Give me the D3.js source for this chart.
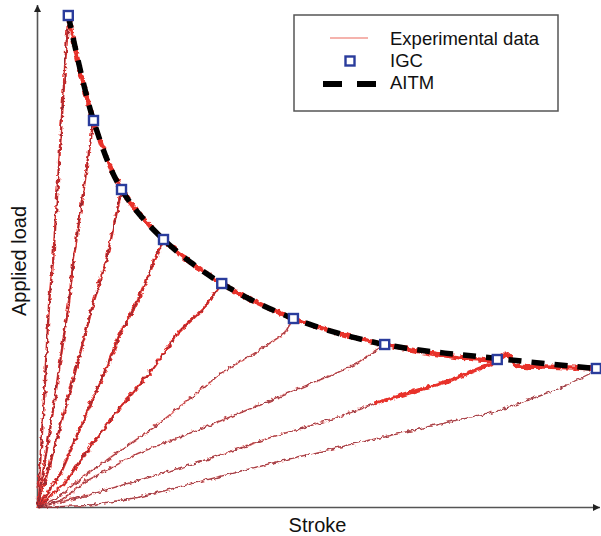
<!DOCTYPE html>
<html>
<head>
<meta charset="utf-8">
<script src="https://cdn.jsdelivr.net/npm/d3@7"></script>
<style>
  html, body { margin: 0; padding: 0; background: #fff; }
  svg { display: block; font-family: "Liberation Sans", Arial, sans-serif; }
</style>
</head>
<body>
<svg id="chart" width="601" height="536"></svg>
<script>
// ---- Data (arbitrary units: stroke 0-100, load 0-100) ----
const igcStroke = [5.5, 10.0, 15.0, 22.5, 32.9, 45.7, 62.0, 82.1, 99.8];
const igcLoad   = [98.4, 77.4, 63.6, 53.6, 44.8, 37.8, 32.6, 29.6, 27.8];

const aitmStroke = [5.5, 10.0, 15.0, 22.5, 32.9, 45.7, 62.0, 82.1, 99.8];
const aitmLoad   = [98.4, 77.4, 63.6, 53.6, 44.8, 37.8, 32.6, 29.8, 27.8];

// experimental envelope after peak (softening branch)
const envStroke = [5.5, 10.0, 15.0, 22.5, 32.9, 45.7, 62.0, 82.1, 83.9, 85.5, 90.5, 99.8];
const envLoad   = [98.4, 77.4, 63.6, 53.6, 44.8, 37.8, 32.6, 29.6, 30.6, 28.4, 28.2, 27.8];

// experimental loading branches (one per specimen)
const run1Stroke = [0, 1.2, 2.1, 2.8, 4.1, 5.5];
const run1Load   = [0, 22.4, 41.4, 49.4, 73.4, 98.4];
const run2Stroke = [0, 2.5, 5.66, 6.43, 8.21, 10.0];
const run2Load   = [0, 17.4, 41.4, 49.4, 63.4, 77.4];
const run3Stroke = [0, 3.39, 6.79, 10.1, 12.3, 15.0];
const run3Load   = [0, 13.4, 27.4, 41.4, 49.4, 63.6];
const run4Stroke = [0, 4.11, 7.68, 11.9, 14.8, 17.9, 20.9, 22.5];
const run4Load   = [0, 6.8, 16.0, 26.8, 34.8, 41.4, 49.4, 53.6];
const run5Stroke = [0, 4.77, 8.93, 14.8, 20.8, 25.0, 29.8, 32.9];
const run5Load   = [0, 4.8, 11.4, 20.0, 28.0, 34.8, 40.0, 44.8];
const run6Stroke = [0, 3.57, 8.93, 14.8, 20.8, 26.8, 32.7, 38.7, 44.1, 45.7];
const run6Load   = [0, 2.0, 6.8, 11.4, 16.0, 21.4, 26.8, 30.8, 34.8, 37.8];
const run7Stroke = [0, 4.11, 8.93, 17.9, 29.8, 41.6, 53.6, 57.5, 61.1, 62.0];
const run7Load   = [0, 1.4, 5.4, 10.8, 16.0, 21.4, 27.0, 29.0, 32.0, 32.6];
const run8Stroke = [0, 8.93, 17.9, 29.8, 41.6, 53.6, 60.2, 73.6, 81.6, 82.1];
const run8Load   = [0, 2.4, 5.4, 9.4, 14.0, 18.0, 20.8, 25.4, 29.0, 29.6];
const run9Stroke = [0, 8.93, 17.9, 29.8, 41.6, 53.6, 64.6, 82.5, 93.2, 99.8];
const run9Load   = [0, 0.4, 2.0, 5.4, 8.8, 12.0, 14.8, 19.4, 23.8, 27.4];

const legendLabels = ["Experimental data", "IGC", "AITM"];
const xLabel = "Stroke";
const yLabel = "Applied load";

// ---- Layout ----
const svg = d3.select("#chart");
const x = d3.scaleLinear().domain([0, 100]).range([37.5, 597.5]);
const y = d3.scaleLinear().domain([0, 100]).range([507.5, 7.5]);

const zip = (xs, ys) => xs.map((v, i) => [v, ys[i]]);
const line = d3.line().x(d => x(d[0])).y(d => y(d[1]));
const smooth = d3.line().x(d => x(d[0])).y(d => y(d[1])).curve(d3.curveCatmullRom.alpha(0.5));

// roughness filter for the measured traces
const defs = svg.append("defs");
const f = defs.append("filter").attr("id", "rough").attr("x", "-5%").attr("y", "-5%").attr("width", "110%").attr("height", "110%");
f.append("feTurbulence").attr("type", "fractalNoise").attr("baseFrequency", "0.22").attr("numOctaves", 2).attr("seed", 3).attr("result", "n");
f.append("feDisplacementMap").attr("in", "SourceGraphic").attr("in2", "n").attr("scale", 5).attr("xChannelSelector", "R").attr("yChannelSelector", "G");

defs.append("marker").attr("id", "arrow").attr("viewBox", "0 0 10 10").attr("refX", 10).attr("refY", 5)
  .attr("markerWidth", 9).attr("markerHeight", 7).attr("markerUnits", "userSpaceOnUse").attr("orient", "auto")
  .append("path").attr("d", "M0,0 L10,5 L0,10 Z").attr("fill", "#222");

// axes (no ticks)
const axG = svg.append("g");
axG.append("line").attr("x1", x(0)).attr("y1", y(0)).attr("x2", x(0)).attr("y2", 5)
  .attr("stroke", "#555").attr("stroke-width", 1.6).attr("marker-end", "url(#arrow)");
axG.append("line").attr("x1", x(0)).attr("y1", y(0)).attr("x2", 600).attr("y2", y(0))
  .attr("stroke", "#555").attr("stroke-width", 1.6).attr("marker-end", "url(#arrow)");

// experimental traces
const runs = [
  [run1Stroke, run1Load, 2.4], [run2Stroke, run2Load, 2.4], [run3Stroke, run3Load, 2.6],
  [run4Stroke, run4Load, 3.0], [run5Stroke, run5Load, 2.8], [run6Stroke, run6Load, 1.8],
  [run7Stroke, run7Load, 1.8], [run8Stroke, run8Load, 1.8], [run9Stroke, run9Load, 1.3]
];
const expG = svg.append("g").attr("filter", "url(#rough)");
runs.forEach(([xs, ys, w]) => {
  expG.append("path").attr("d", line(zip(xs, ys))).attr("fill", "none")
    .attr("stroke", "#e8302a").attr("stroke-width", w).attr("stroke-opacity", w > 2 ? 1 : 0.7);
});
runs.forEach(([xs, ys]) => {
  expG.append("path").attr("d", line(zip(xs, ys))).attr("fill", "none")
    .attr("stroke", "#6a2838").attr("stroke-width", 0.8).attr("stroke-opacity", 0.85);
});
// thick red on the upper part of run 8
expG.append("path").attr("d", line(zip(run8Stroke.slice(6), run8Load.slice(6)))).attr("fill", "none")
  .attr("stroke", "#e8302a").attr("stroke-width", 3.6);
expG.append("path").attr("d", smooth(zip(envStroke, envLoad))).attr("fill", "none")
  .attr("stroke", "#e8302a").attr("stroke-width", 4.4);

// AITM dashed curve
svg.append("path").attr("d", smooth(zip(aitmStroke, aitmLoad))).attr("fill", "none")
  .attr("stroke", "#000").attr("stroke-width", 5.5).attr("stroke-dasharray", "13,10");

// IGC markers
svg.append("g").selectAll("rect").data(zip(igcStroke, igcLoad)).join("rect")
  .attr("x", d => x(d[0]) - 4.5).attr("y", d => y(d[1]) - 4.5)
  .attr("width", 9).attr("height", 9)
  .attr("fill", "#fff").attr("stroke", "#2a3c9c").attr("stroke-width", 2.4);

// legend
const lg = svg.append("g");
lg.append("rect").attr("x", 294).attr("y", 15).attr("width", 264).attr("height", 96)
  .attr("fill", "#fff").attr("stroke", "#555").attr("stroke-width", 1.5);
lg.append("line").attr("x1", 330).attr("x2", 368).attr("y1", 38).attr("y2", 38)
  .attr("stroke", "#f29a92").attr("stroke-width", 1.6);
lg.append("rect").attr("x", 345.5).attr("y", 56.5).attr("width", 9).attr("height", 9)
  .attr("fill", "#fff").attr("stroke", "#2a3c9c").attr("stroke-width", 2.4);
lg.append("line").attr("x1", 323).attr("x2", 378).attr("y1", 84).attr("y2", 84)
  .attr("stroke", "#000").attr("stroke-width", 6).attr("stroke-dasharray", "19,15");
const ly = [45, 67, 89];
legendLabels.forEach((t, i) => {
  lg.append("text").attr("x", 390).attr("y", ly[i]).attr("font-size", 18.5).attr("fill", "#111").text(t);
});

// axis labels
svg.append("text").attr("x", 317.5).attr("y", 532).attr("text-anchor", "middle")
  .attr("font-size", 20).attr("fill", "#111").text(xLabel);
svg.append("text").attr("transform", "translate(26,261) rotate(-90)").attr("text-anchor", "middle")
  .attr("font-size", 20).attr("fill", "#111").text(yLabel);
</script>
</body>
</html>
